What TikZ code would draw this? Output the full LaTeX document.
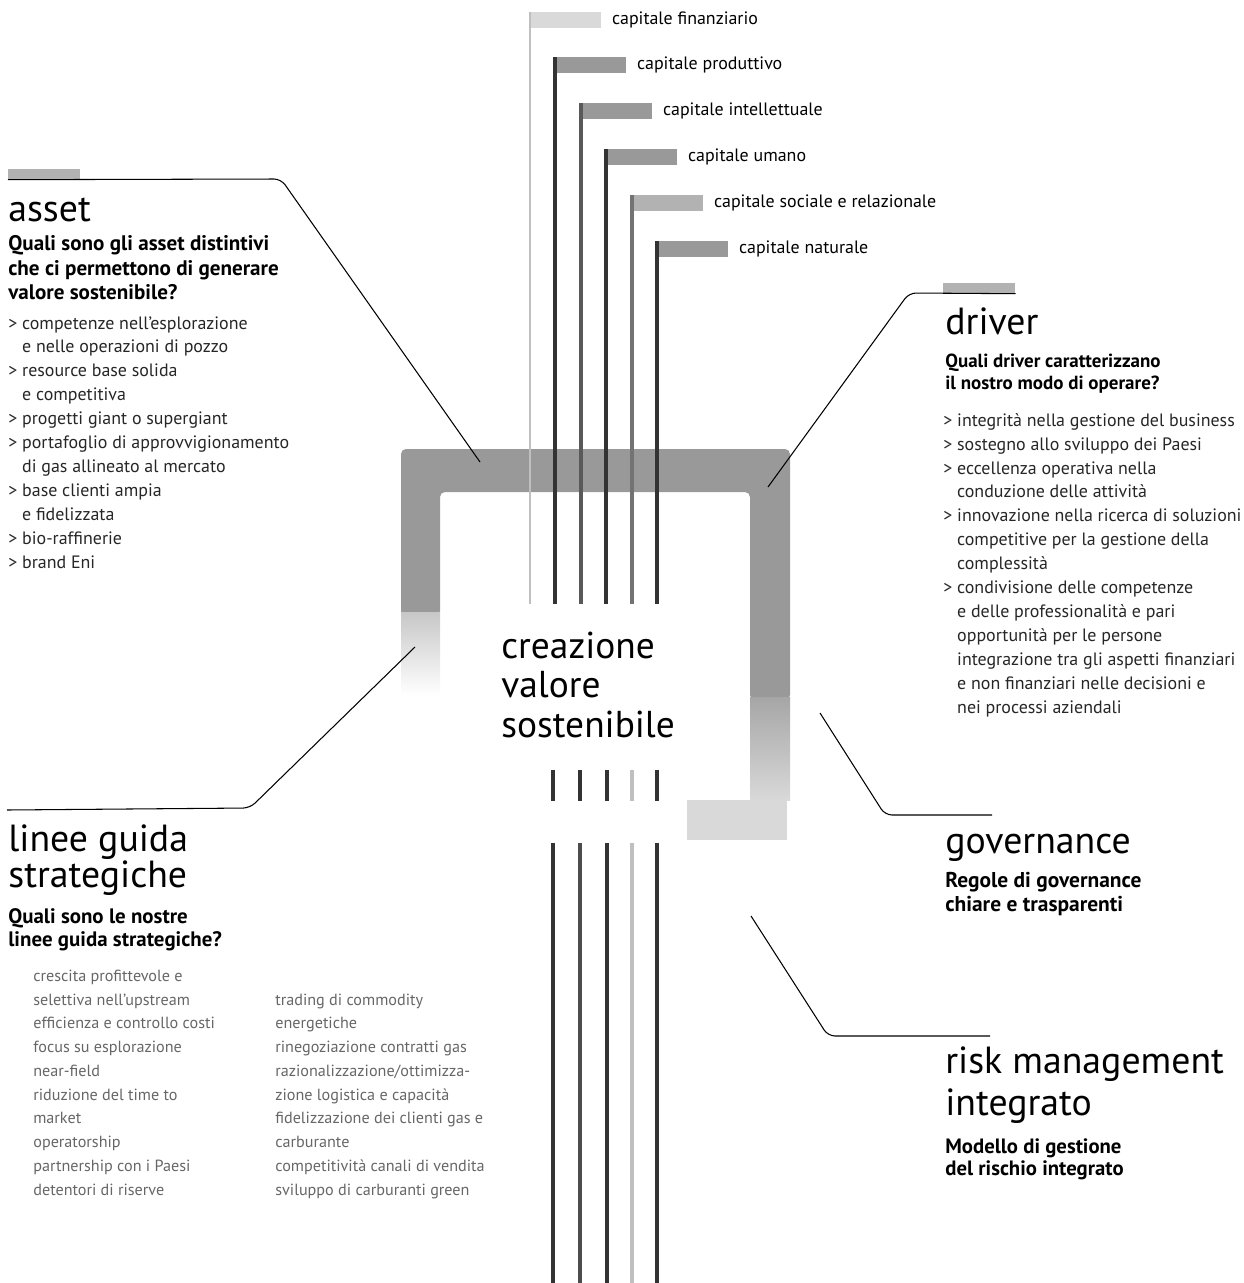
\documentclass[tikz,border=0pt]{standalone}
\usepackage{fontspec}
\setmainfont{PT Sans}
\usetikzlibrary{positioning}
\newcommand{\ind}{\hphantom{> }}
\tikzset{
  head/.style={anchor=base west, inner sep=0pt, align=left, font=\fontsize{21.5}{21}\selectfont},
  quest/.style={anchor=base west, inner sep=0pt, align=left, font=\bfseries\fontsize{12}{13.6}\selectfont},
  bullets/.style={anchor=base west, inner sep=0pt, align=left, text=black!85, font=\fontsize{10.2}{13.6}\selectfont},
  faint/.style={anchor=base west, inner sep=0pt, align=left, text=black!60, font=\fontsize{9.2}{13.5}\selectfont},
  captab/.style={fill=black!40, minimum width=1.42cm, minimum height=0.32cm, inner sep=0pt, anchor=north west},
  tab/.style={fill=black!30, minimum width=1.44cm, minimum height=0.2cm, inner sep=0pt, anchor=north west},
  caplabel/.style={font=\fontsize{10.2}{11}\selectfont, inner sep=0pt},
  capline/.style={line width=2.2pt, black!80},
  leader/.style={line width=0.6pt, rounded corners=0.14cm},
  band/.style={fill=black!40},
}

\begin{document}
\begin{tikzpicture}[x=0.02cm, y=-0.02cm]
  \useasboundingbox (0,0) rectangle (1243,1283);

  % frame
  \fill[band, rounded corners=0.1cm] (401,616) -- (401,449) -- (790,449) -- (790,700) -- (750,700) -- (750,492) -- (440,492) -- (440,616) -- cycle;
  \shade[top color=black!22, bottom color=white] (401,612) rectangle (440,695);
  \shade[top color=black!35, bottom color=black!15] (750,697) rectangle (790,800);
  \fill[black!15] (687,800) rectangle (787,840);

  % capitali
  \coordinate (capbase) at (0,604);
  \node[captab, fill=black!15] (fin) at (530,12) {};
  \node[caplabel, right=0.2cm of fin] (finlab) {capitale finanziario};
  \node[captab] (prod) at (555,57) {};
  \node[caplabel, right=0.2cm of prod] (prodlab) {capitale produttivo};
  \node[captab] (intel) at (581,103) {};
  \node[caplabel, right=0.2cm of intel] (intellab) {capitale intellettuale};
  \node[captab] (umano) at (606,149) {};
  \node[caplabel, right=0.2cm of umano] (umanolab) {capitale umano};
  \node[captab, fill=black!30] (soc) at (632,195) {};
  \node[caplabel, right=0.2cm of soc] (soclab) {capitale sociale e relazionale};
  \node[captab] (nat) at (657,241) {};
  \node[caplabel, right=0.2cm of nat] (natlab) {capitale naturale};

  \draw[capline, black!25, line width=1.6pt] (fin.north west) -- (fin.north west |- capbase);
  \draw[capline] (prod.north west) -- (prod.north west |- capbase);
  \draw[capline, black!65] (intel.north west) -- (intel.north west |- capbase);
  \draw[capline] (umano.north west) -- (umano.north west |- capbase);
  \draw[capline, black!55] (soc.north west) -- (soc.north west |- capbase);
  \draw[capline] (nat.north west) -- (nat.north west |- capbase);

  % sotto
  \draw[capline] (553,770) -- (553,801);
  \draw[capline] (580,770) -- (580,801);
  \draw[capline] (607,770) -- (607,801);
  \draw[capline, black!25] (632,770) -- (632,801);
  \draw[capline] (657,770) -- (657,801);
  \draw[capline] (553,843) -- (553,1283);
  \draw[capline, black!70] (580,843) -- (580,1283);
  \draw[capline] (607,843) -- (607,1283);
  \draw[capline, black!25] (632,843) -- (632,1283);
  \draw[capline] (657,843) -- (657,1283);

  \node[head, font=\fontsize{21.3}{22.4}\selectfont] (cvs) at (501,737) {creazione\\valore\\sostenibile};

  % asset
  \node[tab] (assettab) at (8,169) {};
  \coordinate (assetin) at (480,462);
  \draw[leader] (assettab.south west) -- (281,179) -- (assetin);
  \node[head] (asset) at (8,222) {asset};
  \node[quest, font=\bfseries\fontsize{12}{14.2}\selectfont] (assetq) at (8,300) {Quali sono gli asset distintivi\\che ci permettono di generare\\valore sostenibile?};
  \node[bullets] (assetlist) at (8,568) {> competenze nell’esplorazione\\\ind e nelle operazioni di pozzo\\> resource base solida\\\ind e competitiva\\> progetti giant o supergiant\\> portafoglio di approvvigionamento\\\ind di gas allineato al mercato\\> base clienti ampia\\\ind e fidelizzata\\> bio-raffinerie\\> brand Eni};

  % driver
  \node[tab] (drivertab) at (943,283) {};
  \coordinate (driverin) at (768,487);
  \draw[leader] (drivertab.south east) -- (909,293) -- (driverin);
  \node[head] (driver) at (945,335) {driver};
  \node[quest, font=\bfseries\fontsize{10.8}{12}\selectfont] (driverq) at (945,389) {Quali driver caratterizzano\\il nostro modo di operare?};
  \node[bullets] (driverlist) at (943,713) {> integrità nella gestione del business\\> sostegno allo sviluppo dei Paesi\\> eccellenza operativa nella\\\ind conduzione delle attività\\> innovazione nella ricerca di soluzioni\\\ind competitive per la gestione della\\\ind complessità\\> condivisione delle competenze\\\ind e delle professionalità e pari\\\ind opportunità per le persone\\\ind integrazione tra gli aspetti finanziari\\\ind e non finanziari nelle decisioni e\\\ind nei processi aziendali};

  % linee guida
  \coordinate (lineein) at (415,647);
  \coordinate (lineeout) at (7,810);
  \draw[leader] (lineeout) -- (250,808) -- (lineein);
  \node[head, font=\fontsize{21.5}{20.4}\selectfont] (linee) at (8,887) {linee guida\\strategiche};
  \node[quest, font=\bfseries\fontsize{11.9}{12.6}\selectfont] (lineeq) at (8,946) {Quali sono le nostre\\linee guida strategiche?};
  \node[faint] (lineecol1) at (33,1195) {crescita profittevole e\\selettiva nell’upstream\\efficienza e controllo costi\\focus su esplorazione\\near-field\\riduzione del time to\\market\\operatorship\\partnership con i Paesi\\detentori di riserve};
  \node[faint] (lineecol2) at (275,1195) {trading di commodity\\energetiche\\rinegoziazione contratti gas\\razionalizzazione/ottimizza-\\zione logistica e capacità\\fidelizzazione dei clienti gas e\\carburante\\competitività canali di vendita\\sviluppo di carburanti green};

  % governance
  \coordinate (govin) at (820,713);
  \coordinate (govend) at (992,815);
  \draw[leader] (govin) -- (885,815) -- (govend);
  \node[head] (gov) at (945,853) {governance};
  \node[quest, font=\bfseries\fontsize{12.2}{13.6}\selectfont] (govq) at (945,911) {Regole di governance\\chiare e trasparenti};

  % risk management
  \coordinate (riskin) at (751,916);
  \coordinate (riskend) at (990,1036);
  \draw[leader] (riskin) -- (828,1036) -- (riskend);
  \node[head, font=\fontsize{21.5}{23.8}\selectfont] (risk) at (945,1115) {risk management\\integrato};
  \node[quest, font=\bfseries\fontsize{11.8}{12.5}\selectfont] (riskq) at (945,1175) {Modello di gestione\\del rischio integrato};
\end{tikzpicture}
\end{document}
